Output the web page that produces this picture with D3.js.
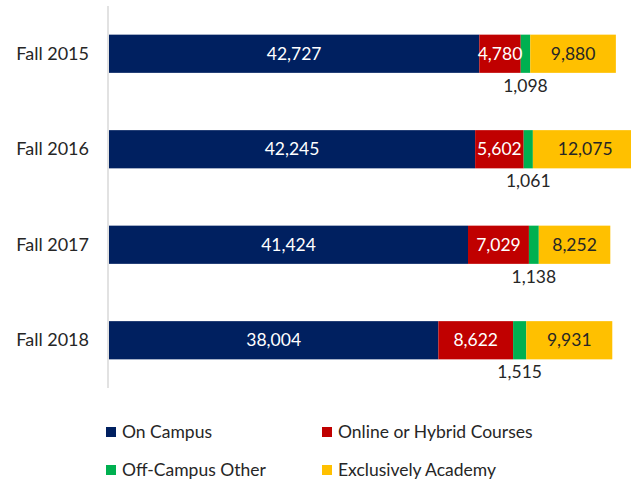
<!DOCTYPE html>
<html lang="en">
<head>
    <meta charset="UTF-8">
    <title>Enrollment by Location</title>
    <script src="https://d3js.org/d3.v7.min.js"></script>
    <style>
        body { margin: 0; background: #fff; }
        text { font-family: Lato, "Open Sans", sans-serif; }
    </style>
</head>
<body>
    <svg id="chart" width="631" height="482"></svg>
    <script>
        const categories = ["Fall 2015", "Fall 2016", "Fall 2017", "Fall 2018"];
        const seriesNames = ["On Campus", "Online or Hybrid Courses", "Off-Campus Other", "Exclusively Academy"];
        const onCampus = [42727, 42245, 41424, 38004];
        const onlineHybrid = [4780, 5602, 7029, 8622];
        const offCampus = [1098, 1061, 1138, 1515];
        const academy = [9880, 12075, 8252, 9931];
        const colors = ["#002060", "#C00000", "#00B050", "#FFC000"];

        const rows = categories.map((c, i) => ({
            cat: c,
            "On Campus": onCampus[i],
            "Online or Hybrid Courses": onlineHybrid[i],
            "Off-Campus Other": offCampus[i],
            "Exclusively Academy": academy[i]
        }));

        const svg = d3.select("#chart");
        const left = 109;

        const x = d3.scaleLinear().domain([0, 60000]).range([left, left + 520]);
        const y = d3.scaleBand().domain(categories).range([6, 388]).paddingInner(0.6).paddingOuter(0.3);

        const stack = d3.stack().keys(seriesNames)(rows);
        const color = d3.scaleOrdinal().domain(seriesNames).range(colors);
        const fmt = d3.format(",");

        // axis line
        svg.append("line")
            .attr("x1", left - 1).attr("x2", left - 1)
            .attr("y1", 6).attr("y2", 388)
            .attr("stroke", "#d9d9d9").attr("stroke-width", 1.5);

        const layers = svg.selectAll("g.layer")
            .data(stack)
            .enter().append("g")
            .attr("fill", d => color(d.key));

        layers.selectAll("rect")
            .data(d => d)
            .enter().append("rect")
            .attr("x", d => x(d[0]))
            .attr("width", d => x(d[1]) - x(d[0]))
            .attr("y", d => y(d.data.cat))
            .attr("height", y.bandwidth());

        // data labels
        stack.forEach((layer, li) => {
            svg.selectAll(null)
                .data(layer)
                .enter().append("text")
                .attr("x", d => (x(d[0]) + x(d[1])) / 2)
                .attr("y", d => li === 2 ? y(d.data.cat) + y.bandwidth() + 19 : y(d.data.cat) + y.bandwidth() / 2 + 6)
                .attr("text-anchor", "middle")
                .attr("font-size", 17.5)
                .attr("fill", li < 2 ? "#ffffff" : "#262626")
                .text(d => fmt(d.data[layer.key]));
        });

        // category labels
        svg.selectAll("text.cat")
            .data(categories)
            .enter().append("text")
            .attr("class", "cat")
            .attr("x", 89)
            .attr("y", d => y(d) + y.bandwidth() / 2 + 6)
            .attr("text-anchor", "end")
            .attr("font-size", 18)
            .attr("fill", "#262626")
            .text(d => d);

        // legend
        const legendPos = [[106, 432], [322, 432], [106, 470], [322, 470]];
        const legend = svg.selectAll("g.legend")
            .data(seriesNames)
            .enter().append("g")
            .attr("transform", (d, i) => `translate(${legendPos[i][0]},${legendPos[i][1]})`);
        legend.append("rect")
            .attr("x", 0).attr("y", -5)
            .attr("width", 10).attr("height", 10)
            .attr("fill", d => color(d));
        legend.append("text")
            .attr("x", 16).attr("y", 6)
            .attr("font-size", 17.5)
            .attr("fill", "#262626")
            .text(d => d);
    </script>
</body>
</html>
